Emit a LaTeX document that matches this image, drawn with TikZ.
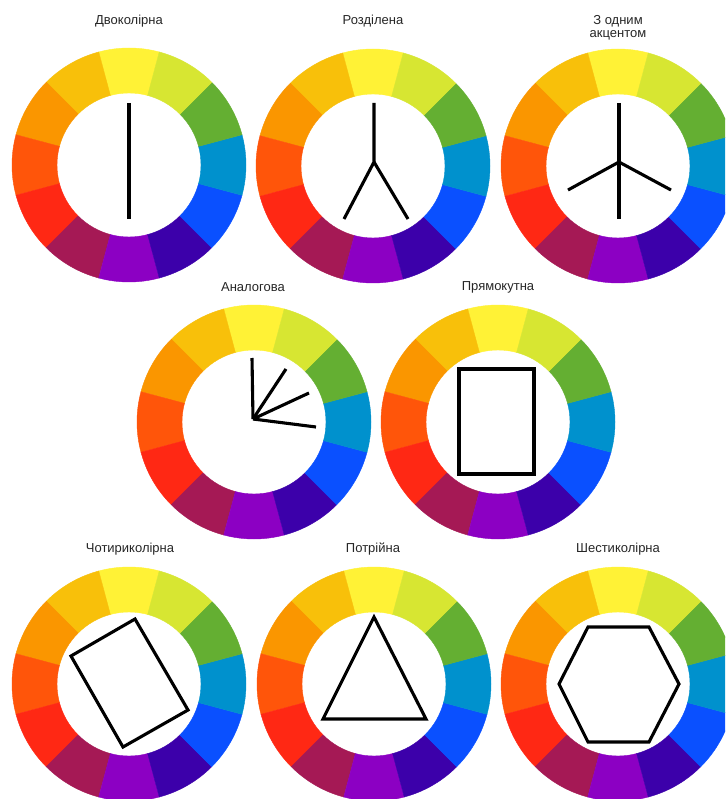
\documentclass[tikz,border=0pt]{standalone}
\usepackage{fontspec}
\setmainfont{Liberation Sans}
\definecolor{cwY}{HTML}{FFF236}
\definecolor{cwYO}{HTML}{F8C00A}
\definecolor{cwO}{HTML}{FA9600}
\definecolor{cwRO}{HTML}{FF550A}
\definecolor{cwR}{HTML}{FF2814}
\definecolor{cwC}{HTML}{A51955}
\definecolor{cwV}{HTML}{8C00C3}
\definecolor{cwI}{HTML}{3C00AA}
\definecolor{cwB}{HTML}{0A50FF}
\definecolor{cwCy}{HTML}{0091CD}
\definecolor{cwG}{HTML}{64AF32}
\definecolor{cwYG}{HTML}{D7E632}
\definecolor{labelgray}{HTML}{262626}
\newcommand\colorwheel[2]{%
  \begin{scope}[shift={(#1,#2)}, yscale=-1]
    \foreach \c [count=\i from 0] in {cwY,cwYO,cwO,cwRO,cwR,cwC,cwV,cwI,cwB,cwCy,cwG,cwYG}{
      \pgfmathsetmacro\a{75+30*\i}
      \pgfmathsetmacro\b{105+30*\i}
      \fill[\c, draw=\c, line width=0.4pt] (\a:72) arc[start angle=\a, end angle=\b, radius=72]
        -- (\b:117) arc[start angle=\b, end angle=\a, radius=117] -- cycle;
    }
  \end{scope}}
\tikzset{
  wheellabel/.style={text=labelgray, font=\fontsize{13}{12.5}\selectfont, align=center, inner sep=0pt},
  scheme/.style={draw=black, line width=3.1pt, line join=miter}
}
\begin{document}
\begin{tikzpicture}[x=1pt, y=-1pt]
\clip (0,0) rectangle (725,799);
\fill[white] (0,0) rectangle (725,799);

% wheels
\colorwheel{129}{165}
\colorwheel{373}{166}
\colorwheel{618}{166}
\colorwheel{254}{422}
\colorwheel{498}{422}
\colorwheel{129}{684}
\colorwheel{374}{684}
\colorwheel{618}{684}

% labels
\node[wheellabel] (l1) at (129,21) {Двоколірна};
\node[wheellabel] (l2) at (373,21) {Розділена};
\node[wheellabel] (l3) at (618,28) {З одним\\акцентом};
\node[wheellabel] (l4) at (253,287) {Аналогова};
\node[wheellabel] (l5) at (498,287) {Прямокутна};
\node[wheellabel] (l6) at (130,549) {Чотириколірна};
\node[wheellabel] (l7) at (373,549) {Потрійна};
\node[wheellabel] (l8) at (618,549) {Шестиколірна};

% wheel 1
\coordinate (a1) at (129,103);
\coordinate (a2) at (129,219);
\draw[scheme] (a1) -- (a2);

% wheel 2
\coordinate (b0) at (374,103);
\coordinate (bj) at (374,162);
\coordinate (bl) at (344,219);
\coordinate (br) at (408,219);
\draw[scheme] (b0) -- (bj) -- (bl);
\draw[scheme] (bj) -- (br);

% wheel 3
\coordinate (c0) at (619,103);
\coordinate (c1) at (619,219);
\coordinate (cj) at (619,162);
\coordinate (cl) at (568,190);
\coordinate (cr) at (671,190);
\draw[scheme] (c0) -- (c1);
\draw[scheme] (cl) -- (cj) -- (cr);

% wheel 4
\coordinate (dp) at (253,419);
\coordinate (d1) at (252,358);
\coordinate (d2) at (286,369);
\coordinate (d3) at (309,393);
\coordinate (d4) at (316,427);
\draw[scheme] (dp) -- (d1);
\draw[scheme] (dp) -- (d2);
\draw[scheme] (dp) -- (d3);
\draw[scheme] (dp) -- (d4);

% wheel 5
\coordinate (e1) at (459,369);
\coordinate (e2) at (534,474);
\draw[scheme] (e1) rectangle (e2);

% wheel 6
\coordinate (f1) at (135,619);
\coordinate (f2) at (188,710);
\coordinate (f3) at (123,747);
\coordinate (f4) at (71,656);
\draw[scheme] (f1) -- (f2) -- (f3) -- (f4) -- cycle;

% wheel 7
\coordinate (g1) at (374,617);
\coordinate (g2) at (426,719);
\coordinate (g3) at (323,719);
\draw[scheme] (g1) -- (g2) -- (g3) -- cycle;

% wheel 8
\coordinate (h1) at (588,627);
\coordinate (h2) at (649,627);
\coordinate (h3) at (679,684);
\coordinate (h4) at (649,742);
\coordinate (h5) at (588,742);
\coordinate (h6) at (559,684);
\draw[scheme] (h1) -- (h2) -- (h3) -- (h4) -- (h5) -- (h6) -- cycle;
\end{tikzpicture}
\end{document}
